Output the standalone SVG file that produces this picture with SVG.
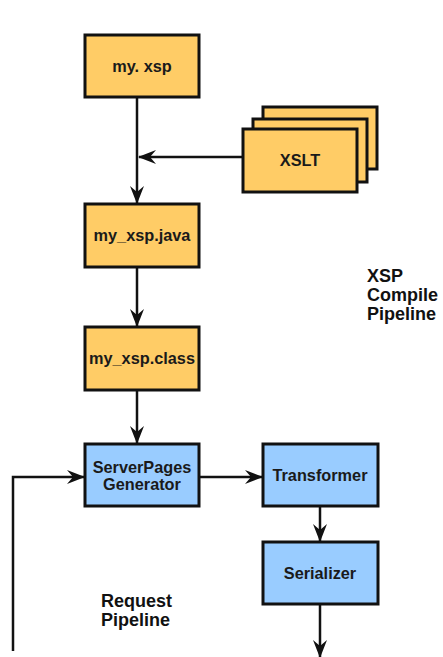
<svg xmlns="http://www.w3.org/2000/svg" width="443" height="657" viewBox="0 0 443 657">
<style>
.bg{fill:#ffffff}
.o rect{fill:#FFCC66;stroke:#111;stroke-width:3}
.b rect{fill:#99CCFF;stroke:#111;stroke-width:3}
.t{font-family:"Liberation Sans",Arial,sans-serif;font-weight:bold;font-size:16.3px;fill:#1a1a1a;text-anchor:middle}
.lbl{font-family:"Liberation Sans",Arial,sans-serif;font-weight:bold;font-size:18px;fill:#111}
#connectors path{fill:none;stroke:#111;stroke-width:2.5;marker-end:url(#ah)}
</style>
<defs>
<marker id="ah" markerUnits="userSpaceOnUse" viewBox="0 0 18 14" refX="17" refY="7" markerWidth="18" markerHeight="14" orient="auto">
<path d="M0,0 L18,7 L0,14 L6,7 Z" fill="#111"/>
</marker>
</defs>
<rect class="bg" x="0" y="0" width="443" height="657"/>
<g id="connectors">
<path d="M137,97 L137,203"/>
<path d="M243,157 L139,157"/>
<path d="M137,267 L137,326"/>
<path d="M137,390 L137,443"/>
<path d="M13,651 L13,477 L84,477"/>
<path d="M199,477 L262,477"/>
<path d="M320,506 L320,541"/>
<path d="M320,604 L320,657"/>
</g>
<g id="myxsp" class="o">
<rect x="85" y="35" width="114" height="62"/>
<text class="t" x="142" y="72">my. xsp</text>
</g>
<g id="xslt" class="o">
<rect x="263" y="107" width="114" height="62"/>
<rect x="253" y="119" width="114" height="63"/>
<rect x="243" y="129" width="114" height="63"/>
<text class="t" x="300" y="166">XSLT</text>
</g>
<g id="myxspjava" class="o">
<rect x="85" y="204" width="114" height="63"/>
<text class="t" x="142" y="241">my_xsp.java</text>
</g>
<g id="myxspclass" class="o">
<rect x="85" y="327" width="114" height="63"/>
<text class="t" x="142" y="364">my_xsp.class</text>
</g>
<g id="serverpages" class="b">
<rect x="85" y="444" width="114" height="62"/>
<text class="t" x="142" y="473">ServerPages</text>
<text class="t" x="142" y="490">Generator</text>
</g>
<g id="transformer" class="b">
<rect x="263" y="444" width="115" height="62"/>
<text class="t" x="320" y="481">Transformer</text>
</g>
<g id="serializer" class="b">
<rect x="263" y="542" width="115" height="62"/>
<text class="t" x="320" y="579">Serializer</text>
</g>
<g id="xsp-compile-label">
<text class="lbl" x="367" y="282">XSP</text>
<text class="lbl" x="367" y="301">Compile</text>
<text class="lbl" x="367" y="320">Pipeline</text>
</g>
<g id="request-label">
<text class="lbl" x="101" y="607">Request</text>
<text class="lbl" x="101" y="626">Pipeline</text>
</g>
</svg>
